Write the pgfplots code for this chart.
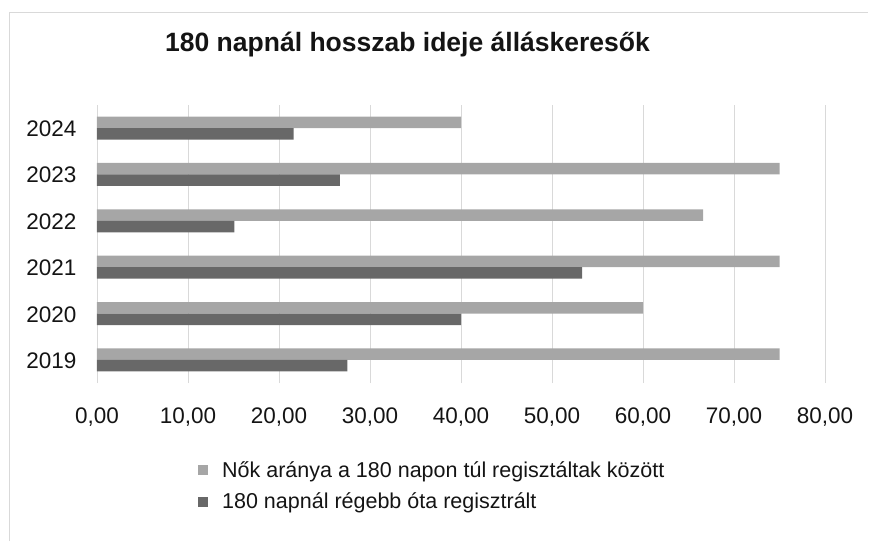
\documentclass[border=0pt]{standalone}
\usepackage{pgfplots}
\pgfplotsset{compat=1.18}
\usepackage{fontspec}
\setmainfont{Liberation Sans}
\definecolor{lightbar}{RGB}{166,166,166}
\definecolor{darkbar}{RGB}{104,104,104}
\definecolor{txt}{RGB}{20,20,20}
\begin{document}
\begin{tikzpicture}[x=1pt,y=1pt]
\useasboundingbox (0,0) rectangle (872,541);
\draw[gray!30, line width=0.8pt] (9,0) -- (9,529) -- (868,529);
\node[anchor=base, text=txt, font=\fontsize{26.5}{31}\selectfont\bfseries] at (407.5,489) {180 napnál hosszab ideje álláskeresők};
\begin{axis}[
  at={(97pt,158pt)}, anchor=south west,
  scale only axis, width=728pt, height=278pt,
  xmin=0, xmax=80, ymin=-0.5, ymax=5.5,
  xbar, bar width=11.5pt,
  xtick={0,10,...,80},
  xticklabels={{0,00},{10,00},{20,00},{30,00},{40,00},{50,00},{60,00},{70,00},{80,00}},
  ytick={0,1,2,3,4,5},
  yticklabels={2019,2020,2021,2022,2023,2024},
  xmajorgrids, grid style={draw=gray!30, line width=0.7pt},
  axis line style={draw=none},
  major tick length=0pt,
  tick label style={text=txt, font=\fontsize{22.5}{26}\selectfont},
  xticklabel style={anchor=base, yshift=-40pt},
  yticklabel style={anchor=base east, xshift=-17pt, yshift=-8.5pt},
  legend image code/.code={\fill[#1] (0pt,-5pt) rectangle (10pt,5pt);},
  legend style={at={(0.1387,-0.2806)}, anchor=north west, draw=none, fill=none,
    inner sep=0pt, row sep=14.5pt, column sep=14pt,
    nodes={inner sep=0pt, text=txt},
    font=\fontsize{21.5}{25}\selectfont},
  legend cell align=left,
]
\addplot[fill=lightbar, draw=none, bar shift=5.75pt] coordinates {
  (75.0,0) (60.0,1) (75.0,2) (66.6,3) (75.0,4) (40.0,5)};
\addlegendentry{Nők aránya a 180 napon túl regisztáltak között}
\addplot[fill=darkbar, draw=none, bar shift=-5.75pt] coordinates {
  (27.5,0) (40.0,1) (53.3,2) (15.1,3) (26.7,4) (21.6,5)};
\addlegendentry{180 napnál régebb óta regisztrált}
\end{axis}
\end{tikzpicture}
\end{document}
